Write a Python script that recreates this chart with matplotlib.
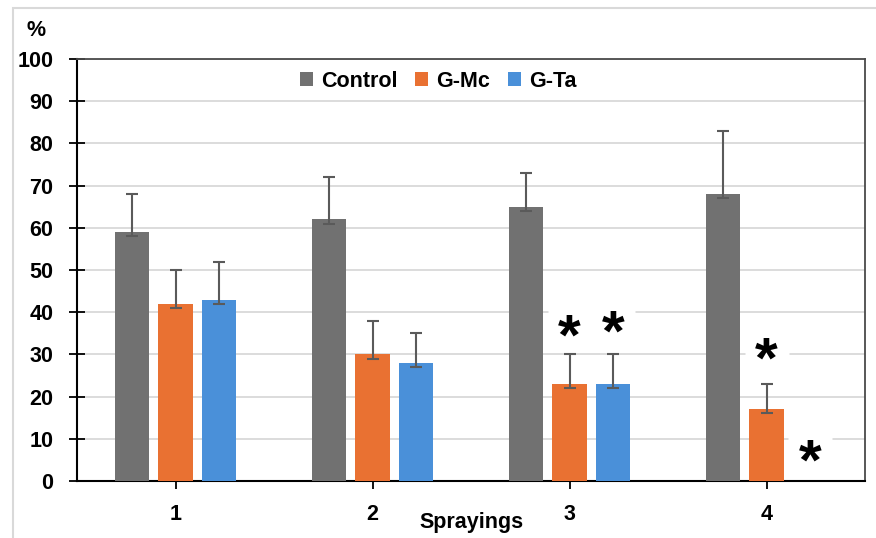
import matplotlib
matplotlib.use('Agg')
from matplotlib import pyplot as plt
from matplotlib import transforms
from matplotlib.patches import Rectangle
import numpy as np

sprayings = ['1', '2', '3', '4']
series = ['Control', 'G-Mc', 'G-Ta']
control = [59, 62, 65, 68]
g_mc = [42, 30, 23, 17]
g_ta = [43, 28, 23, 0]
control_err = [9, 10, 8, 15]
g_mc_err = [8, 8, 7, 6]
g_ta_err = [9, 7, 7, 0]
# asterisks: (group index, series index, height)
stars = [(2, 1, 36.6), (2, 2, 37.4), (3, 1, 31), (3, 2, 7)]

colors = ['#717171', '#E97132', '#4A90D9']
err_color = '#5A5A5A'

plt.rcParams['font.family'] = ['Liberation Sans', 'DejaVu Sans']
plt.rcParams['font.weight'] = 'bold'

fig = plt.figure(figsize=(8.76, 5.38), dpi=100)
ax = fig.add_axes([77 / 876, 1 - 481 / 538, 788 / 876, 422 / 538])

x = np.arange(1, len(sprayings) + 1)
width = 0.173
offset = 0.222
values = [control, g_mc, g_ta]
errs = [control_err, g_mc_err, g_ta_err]
for i, (vals, err, col, name) in enumerate(zip(values, errs, colors, series)):
    pos = x + (i - 1) * offset
    ax.bar(pos, vals, width, color=col, label=name, zorder=3)
    vals = np.array(vals)
    err = np.array(err)
    show = err > 0
    ax.errorbar(pos[show], vals[show], yerr=[np.ones(show.sum()), err[show]],
                fmt='none', ecolor=err_color, elinewidth=1.5, capsize=4,
                capthick=1.5, zorder=4)

# asterisks with a white patch that breaks the gridlines
star_fs = 42
star_tr = transforms.offset_copy(ax.transData, fig=fig, y=-0.22 * star_fs,
                                 units='points')
for g, s, h in stars:
    sx = x[g] + (s - 1) * offset
    ax.plot(sx, h, marker='s', ms=31, color='white', mec='none', zorder=2)
    ax.text(sx, h, '*', transform=star_tr, ha='center', va='center',
            fontsize=star_fs, fontweight='bold', color='black', zorder=5)

ax.set_xlim(0.5, len(sprayings) + 0.5)
ax.set_ylim(0, 100)
ax.set_yticks(np.arange(0, 101, 10))
ax.set_xticks(x)
ax.set_xticklabels(sprayings)
ax.yaxis.grid(True, color='#D9D9D9', lw=1.3, zorder=0)
ax.set_axisbelow(True)

for side in ['left', 'bottom']:
    ax.spines[side].set_color('black')
    ax.spines[side].set_linewidth(1.5)
for side in ['top', 'right']:
    ax.spines[side].set_color('#4A4A4A')
    ax.spines[side].set_linewidth(1.3)

ax.tick_params(axis='both', direction='inout', length=11, width=1.3,
               labelsize=15.5, colors='black')
ax.tick_params(axis='y', pad=11.5)
ax.tick_params(axis='x', pad=11)
for lab in ax.get_xticklabels() + ax.get_yticklabels():
    lab.set_fontweight('bold')

ax.set_xlabel('Sprayings', fontsize=15.5, fontweight='bold', labelpad=-9)

leg = ax.legend(loc='center', bbox_to_anchor=(0.4585, 0.947), ncol=3,
                frameon=False, handlelength=0.6, handleheight=0.6,
                handletextpad=0.4, columnspacing=0.8,
                prop={'weight': 'bold', 'size': 15.5})

fig.text(36 / 876, 1 - 30 / 538, '%', fontsize=15.5, fontweight='bold',
         ha='center', va='center')

fig.patches.append(Rectangle((13 / 876, -0.1), 2, 1.1 - 8 / 538,
                             transform=fig.transFigure, fill=False,
                             ec='#D9D9D9', lw=1.5))

fig.savefig('out.png', dpi=100)
